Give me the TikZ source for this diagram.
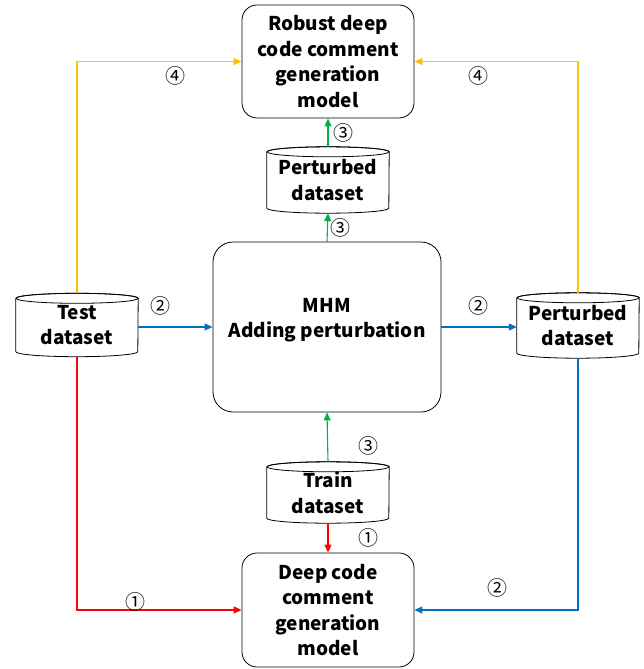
\documentclass[tikz,border=0pt]{standalone}
\usepackage{fontspec}
\newfontfamily\yhfont{Noto Sans CJK SC}
\usetikzlibrary{arrows.meta}
\definecolor{cyel}{HTML}{FFC000}
\definecolor{cgrn}{HTML}{00B050}
\definecolor{cblu}{HTML}{0070C0}
\definecolor{cred}{HTML}{FF0000}
\newcommand\lbltxt{\yhfont\bfseries\fontsize{19}{25.5}\selectfont}
\newcommand\dbcyl[1]{%
  \draw[line width=0.8pt] ([yshift=-5pt]#1.north west) -- ([yshift=5pt]#1.south west)
    arc[start angle=180,end angle=360,x radius=61pt,y radius=5pt]
    -- ([yshift=-5pt]#1.north east)
    arc[start angle=0,end angle=180,x radius=61pt,y radius=5pt];
  \draw[line width=0.8pt] ([yshift=-5pt]#1.north) ellipse[x radius=61pt,y radius=5pt];}
\begin{document}
\begin{tikzpicture}[x=1pt,y=1pt,
  box/.style={draw, rounded corners=15pt, line width=0.8pt, minimum width=172pt,
    minimum height=113pt, align=center, font=\lbltxt, inner sep=0pt},
  db/.style={minimum width=122pt, inner sep=0pt, align=center, font=\lbltxt},
  conn/.style={line width=1.1pt, -{Triangle[length=8pt,width=7pt]}},
  num/.style={font=\yhfont\fontsize{20}{20}\selectfont, inner sep=0pt}]
\useasboundingbox (0,0) rectangle (644,-669);
% nodes
\node[box] (robust) at (328,-61.5) {Robust deep\\code comment\\generation\\model};
\node[box, minimum height=114pt] (deep) at (328,-610) {Deep code\\comment\\generation\\model};
\node[draw, rounded corners=20pt, line width=0.8pt, minimum width=228pt, minimum height=170pt, inner sep=0pt] (mhm) at (327,-327) {};
\node[font=\lbltxt, align=center, inner sep=0pt] (mhmtext) at (327,-320) {MHM\\Adding perturbation};
\node[db, minimum height=66pt] (ptop) at (328,-180) {Perturbed\\dataset};
\node[db, minimum height=63pt] (test) at (77,-325) {Test\\dataset};
\node[db, minimum height=65pt] (pright) at (578,-325.5) {Perturbed\\dataset};
\node[db, minimum height=61pt] (train) at (328,-492.5) {Train\\dataset};
\dbcyl{ptop}
\dbcyl{test}
\dbcyl{pright}
\dbcyl{train}
% connectors
\draw[conn, cyel] (test.north) |- (robust.west);
\draw[conn, cyel] (pright.north) |- (robust.east);
\draw[conn, cgrn] (ptop.north) -- (robust.south);
\draw[conn, cgrn] (mhm.north) -- (ptop.south);
\draw[conn, cgrn] (train.north) -- (mhm.south);
\draw[conn, cblu] (test.east |- mhm.west) -- (mhm.west);
\draw[conn, cblu] (mhm.east) -- (pright.west |- mhm.east);
\draw[conn, cblu] (pright.south) |- (deep.east);
\draw[conn, cred] (test.south) |- (deep.west);
\draw[conn, cred] (train.south) -- (deep.north);
% labels
\node[num] (l4a) at (175,-76) {④};
\node[num] (l4b) at (478,-76) {④};
\node[num] (l3a) at (343,-133) {③};
\node[num] (l3b) at (340,-228) {③};
\node[num] (l3c) at (368,-446) {③};
\node[num] (l2a) at (160,-306) {②};
\node[num] (l2b) at (478,-306) {②};
\node[num] (l2c) at (497,-588) {②};
\node[num] (l1a) at (368,-538) {①};
\node[num] (l1b) at (135,-602) {①};
\end{tikzpicture}
\end{document}
